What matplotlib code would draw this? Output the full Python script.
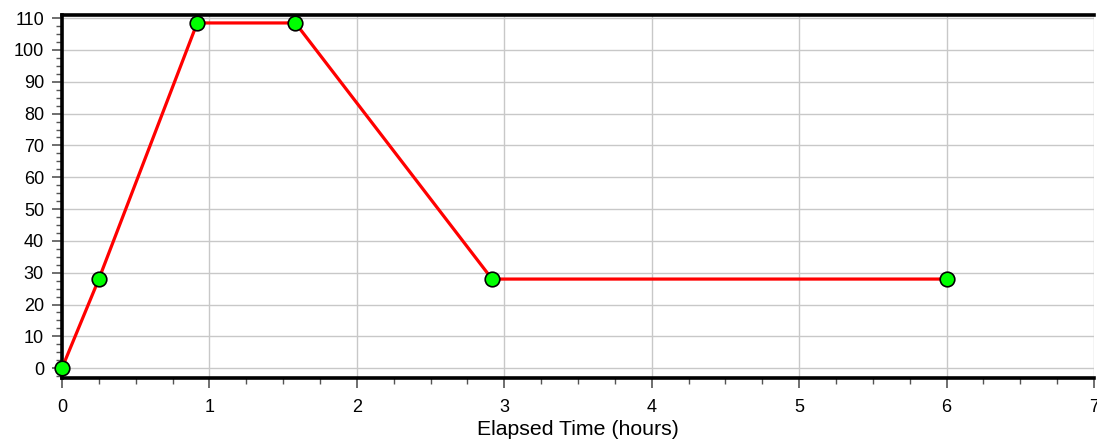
import matplotlib
matplotlib.use("Agg")
import matplotlib.pyplot as plt
from matplotlib.ticker import MultipleLocator

# -----------------------------
# Data
# -----------------------------
elapsed_hours = [0.0, 0.25, 0.917, 1.583, 2.917, 6.0]
values = [0, 28, 108.5, 108.5, 28, 28]

x_label = "Elapsed Time (hours)"

# -----------------------------
# Figure
# -----------------------------
plt.rcParams['font.family'] = ['Liberation Sans', 'DejaVu Sans']

fig = plt.figure(figsize=(10.97, 4.42), dpi=100)
ax = fig.add_axes([62 / 1097, 1 - 378 / 442, (1094 - 62) / 1097, (378 - 15) / 442])

ax.plot(elapsed_hours, values, color='#ff0000', linewidth=2.3, zorder=3,
        marker='o', markersize=10.5, markerfacecolor='#00ff00',
        markeredgecolor='black', markeredgewidth=1.2, clip_on=False)

ax.set_xlim(0, 7)
ax.set_ylim(-3.1, 111)

ax.xaxis.set_major_locator(MultipleLocator(1))
ax.xaxis.set_minor_locator(MultipleLocator(0.25))
ax.yaxis.set_major_locator(MultipleLocator(10))
ax.yaxis.set_minor_locator(MultipleLocator(2.5))
ax.set_yticks(range(0, 111, 10))

ax.grid(True, which='major', color='#c8c8c8', linewidth=1.0, zorder=0)
ax.set_axisbelow(True)

for side in ['left', 'bottom', 'top']:
    ax.spines[side].set_linewidth(2.6)
    ax.spines[side].set_color('black')
ax.spines['right'].set_visible(False)

ax.tick_params(axis='both', which='major', length=7, width=1.2, color='#555555')
ax.tick_params(axis='both', which='minor', length=4.5, width=1.0, color='#555555')
ax.tick_params(axis='y', which='major', labelsize=13, pad=6)
ax.tick_params(axis='x', which='major', labelsize=13, pad=8)

ax.set_xlabel(x_label, fontsize=15.3, labelpad=3)

fig.savefig("out.png", dpi=100)
plt.close(fig)
